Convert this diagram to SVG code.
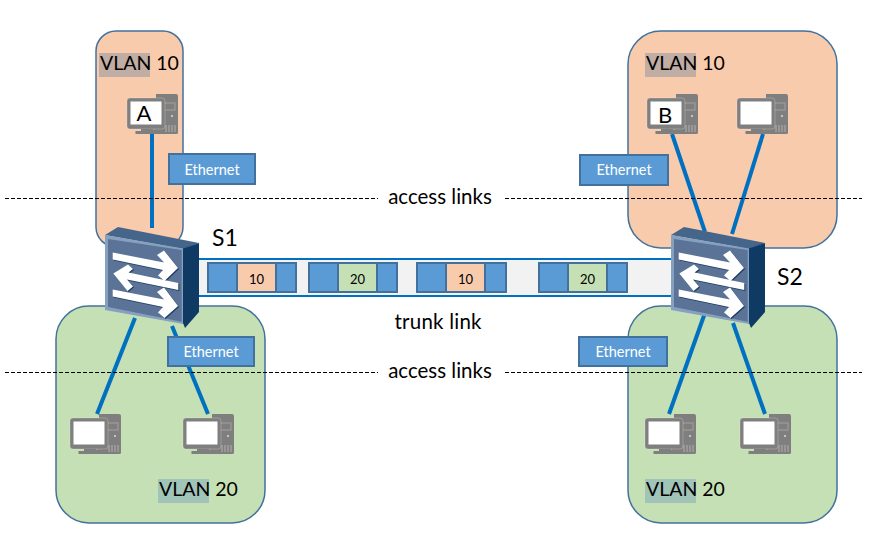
<svg xmlns="http://www.w3.org/2000/svg" width="874" height="549" viewBox="0 0 874 549">
<style>
text{font-family:Lato,"Open Sans","Liberation Sans",sans-serif;fill:#000}
.zone{stroke:#41719c;stroke-width:1.5}
.or{fill:#f8cbad}.gr{fill:#c5e0b4}
.hlo{fill:#c0aea4}.hlg{fill:#a0c4b8}
.vl{font-size:19.5px}
.lbl{font-size:20.5px}
.sn{font-size:23px}
.eth{fill:#5b9bd5;stroke:#41719c;stroke-width:2}
.etht{font-size:14.5px;fill:#fff;text-anchor:middle}
.link{stroke:#0070c0;stroke-width:4;fill:none}
.dash{stroke:#000;stroke-width:1;stroke-dasharray:4 2;fill:none}
.fr{fill:#5b9bd5;stroke:#41719c;stroke-width:2}
.ft{font-size:13px;text-anchor:middle}
.pcg{fill:#7f7f7f}
</style>
<defs>
<symbol id="pc" width="52" height="42" viewBox="0 0 52 42" overflow="visible">
<path class="pcg" d="M29 0h20q2 0 2 2v37q0 1-2 1H24v-4l8-2V6h-3z"/>
<rect x="34" y="9" width="14" height="7" fill="none" stroke="#a8a09c" stroke-width="1"/>
<circle cx="45" cy="22" r="1" fill="#d8d8d8"/>
<path d="M39 31v7M42 31v7M45 31v7M48 31v7" stroke="#b8b0ac" stroke-width="1"/>
<rect x="0" y="4" width="38" height="31" rx="3" class="pcg" stroke="#f8f4f0" stroke-opacity=".25"/>
<rect x="3.500" y="7.500" width="31" height="23" fill="#fff"/>
<rect x="14" y="35" width="12" height="2" class="pcg"/>
<rect x="8.500" y="37" width="29" height="3" class="pcg"/>
</symbol>
<symbol id="sw" width="100" height="105" viewBox="0 0 100 105" overflow="visible">
<path d="M0 8 13 0l81 16-16 6z" fill="#46658b"/>
<path d="M78 21.500 94 16v69l-14 16-2-5z" fill="#0e3a63"/>
<path d="M0 8 78 21.500V97L0 83z" fill="#86a1c0"/>
<path d="M3 12 76.700 23v71.700L3 80z" fill="#5a7396"/>
<path d="M8.700 26.500 60 36.500 53 29 60 24.500 74 42 60.500 55 54 49.500 59 44 8.700 33.500zM9.300 47.500 24 38.500 29 43 24.500 46.500 74.300 57V64L23 53.500 29 60.500 23.500 65zM8.700 63.500 60 73.500 53 66 60 61.500 74 80 60.500 92 54 86.500 59 81 8.700 70.500z" fill="#1f3d63"/>
<path d="M7.700 25.500 59 35.500 52 28 59 23.500 73 41 59.500 54 53 48.500 58 43 7.700 32.500zM8.300 46.500 23 37.500 28 42 23.500 45.500 73.300 56V63L22 52.500 28 59.500 22.500 64zM7.700 62.500 59 72.500 52 65 59 60.500 73 79 59.500 91 53 85.500 58 80 7.700 69.500z" fill="#fff"/>
</symbol>
</defs>

<g id="zone-vlan10-left"><rect class="zone or" x="96" y="31" width="87" height="216" rx="20"/><rect class="hlo" x="99" y="53" width="51" height="24"/><text class="vl" x="100" y="70">VLAN 10</text></g>
<g id="zone-vlan10-right"><rect class="zone or" x="628" y="31" width="209" height="217" rx="33"/><rect class="hlo" x="645" y="53" width="51" height="24"/><text class="vl" x="646" y="70">VLAN 10</text></g>
<g id="zone-vlan20-left"><rect class="zone gr" x="56" y="306" width="209" height="217" rx="33"/><rect class="hlg" x="158" y="479" width="51" height="24"/><text class="vl" x="159" y="496">VLAN 20</text></g>
<g id="zone-vlan20-right"><rect class="zone gr" x="628" y="306" width="209" height="217" rx="33"/><rect class="hlg" x="645" y="479" width="51" height="24"/><text class="vl" x="646" y="496">VLAN 20</text></g>

<g id="connectors">
<path class="link" d="M152 134V228"/>
<path class="link" d="M135 318 97 414"/>
<path class="link" d="M172 326 208 414"/>
<path class="link" d="M672 134 705 232"/>
<path class="link" d="M763 134 732 234"/>
<path class="link" d="M706 310 669 414"/>
<path class="link" d="M733 323 765 414"/>
<path class="dash" d="M5 198.500H378M505 198.500H862M5 372.500H378M505 372.500H862"/>
</g>

<g id="trunk">
<rect x="199" y="259" width="472" height="37" fill="#f2f2f2"/>
<path d="M199 259H671M199 296H671" stroke="#0070c0" stroke-width="2" fill="none"/>
</g>
<g id="frame-1"><rect class="fr" x="208" y="263" width="88" height="29"/><rect x="237" y="263" width="39" height="29" class="or" stroke="#41719c" stroke-width="2"/><text class="ft" x="256.500" y="284">10</text></g>
<g id="frame-2"><rect class="fr" x="309" y="263" width="88" height="29"/><rect x="338" y="263" width="39" height="29" class="gr" stroke="#41719c" stroke-width="2"/><text class="ft" x="357.500" y="284">20</text></g>
<g id="frame-3"><rect class="fr" x="417" y="263" width="89" height="29"/><rect x="446" y="263" width="39" height="29" class="or" stroke="#41719c" stroke-width="2"/><text class="ft" x="465.500" y="284">10</text></g>
<g id="frame-4"><rect class="fr" x="539" y="263" width="88" height="29"/><rect x="568" y="263" width="39" height="29" class="gr" stroke="#41719c" stroke-width="2"/><text class="ft" x="587.500" y="284">20</text></g>

<g id="pc-a"><use href="#pc" x="127" y="94"/><text x="144" y="121" font-size="22" text-anchor="middle">A</text></g>
<g id="pc-b"><use href="#pc" x="647" y="94"/><text x="665" y="123" font-size="22" text-anchor="middle">B</text></g>
<g id="pc-top-right"><use href="#pc" x="737" y="94"/></g>
<g id="pc-left-1"><use href="#pc" x="70" y="414"/></g>
<g id="pc-left-2"><use href="#pc" x="183" y="414"/></g>
<g id="pc-right-1"><use href="#pc" x="645" y="414"/></g>
<g id="pc-right-2"><use href="#pc" x="740" y="414"/></g>

<g id="switch-s1"><use href="#sw" x="105" y="227"/><text class="sn" x="212" y="246">S1</text></g>
<g id="switch-s2"><use href="#sw" x="671" y="227"/><text class="sn" x="777" y="285">S2</text></g>

<g id="eth-1"><rect class="eth" x="169" y="154" width="86" height="30"/><text class="etht" x="212" y="175">Ethernet</text></g>
<g id="eth-2"><rect class="eth" x="580" y="155" width="88" height="30"/><text class="etht" x="624" y="175">Ethernet</text></g>
<g id="eth-3"><rect class="eth" x="168" y="337" width="86" height="29"/><text class="etht" x="211" y="357">Ethernet</text></g>
<g id="eth-4"><rect class="eth" x="579" y="337" width="88" height="29"/><text class="etht" x="623" y="357">Ethernet</text></g>

<text class="lbl" x="440" y="204" text-anchor="middle">access links</text>
<text class="lbl" x="440" y="378" text-anchor="middle">access links</text>
<text class="lbl" x="438" y="329" text-anchor="middle" textLength="87">trunk link</text>
</svg>
